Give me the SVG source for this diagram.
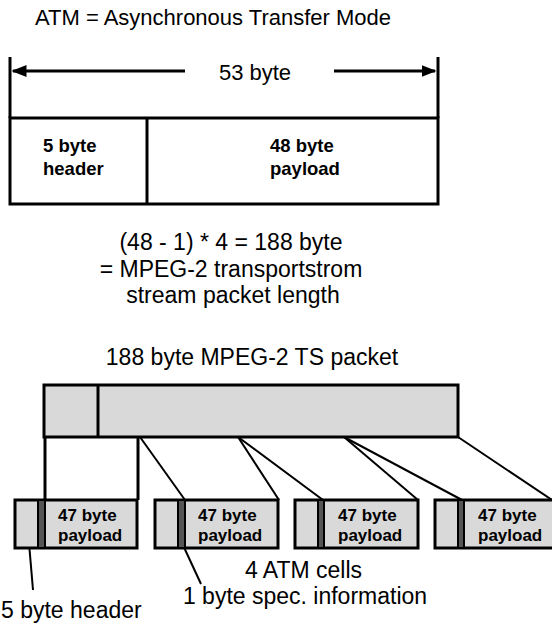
<svg xmlns="http://www.w3.org/2000/svg" width="552" height="625" viewBox="0 0 552 625">
<defs>
<style>
.t{font-family:"Liberation Sans",Arial,sans-serif;font-size:22px;fill:#000}
.m{font-family:"Liberation Sans",Arial,sans-serif;font-size:23px;fill:#000}
.b{font-family:"Liberation Sans",Arial,sans-serif;font-size:18.5px;font-weight:bold;fill:#000}
.c{font-family:"Liberation Sans",Arial,sans-serif;font-size:17px;font-weight:bold;fill:#000}
.box{fill:#fff;stroke:#000;stroke-width:3}
.g{fill:#d9d9d9;stroke:#000;stroke-width:3}
.band{fill:#555;stroke:#000;stroke-width:2}
.ln{stroke:#000;stroke-width:2;fill:none}
.thick{stroke:#000;stroke-width:3;fill:none}
</style>
<marker id="ah" viewBox="0 0 10 10" refX="9" refY="5" markerWidth="5" markerHeight="5" orient="auto-start-reverse" markerUnits="strokeWidth">
<path d="M0,1 L10,5 L0,9 z" fill="#000"/>
</marker>
</defs>
<rect width="552" height="625" fill="#fff"/>
<text class="t" x="35" y="25">ATM = Asynchronous Transfer Mode</text>
<g id="dimension">
<line class="thick" x1="10" y1="57" x2="10" y2="118"/>
<line class="thick" x1="438" y1="57" x2="438" y2="118"/>
<line class="thick" x1="185" y1="71" x2="13" y2="71" marker-end="url(#ah)"/>
<line class="thick" x1="334" y1="71" x2="435" y2="71" marker-end="url(#ah)"/>
<text class="t" x="255" y="80" text-anchor="middle">53 byte</text>
</g>
<g id="atm-cell">
<rect class="box" x="10" y="118" width="428" height="86"/>
<line class="thick" x1="147" y1="118" x2="147" y2="204"/>
<text class="b" x="43" y="152">5 byte</text>
<text class="b" x="43" y="175">header</text>
<text class="b" x="270" y="152">48 byte</text>
<text class="b" x="270" y="175">payload</text>
</g>
<g id="formula">
<text class="m" x="231" y="250" text-anchor="middle">(48 - 1) * 4 = 188 byte</text>
<text class="m" x="231" y="277" text-anchor="middle">= MPEG-2 transportstrom</text>
<text class="m" x="233" y="303" text-anchor="middle">stream packet length</text>
</g>
<text class="m" x="252" y="365" text-anchor="middle">188 byte MPEG-2 TS packet</text>
<g id="ts-packet">
<rect class="g" x="44" y="385" width="414" height="52"/>
<line class="thick" x1="98" y1="385" x2="98" y2="437"/>
</g>
<g id="connectors">
<line class="thick" x1="45" y1="437" x2="45" y2="500"/>
<line class="thick" x1="138" y1="437" x2="138" y2="500"/>
<line class="ln" x1="140" y1="437" x2="185" y2="500"/>
<line class="ln" x1="238" y1="437" x2="279" y2="500"/>
<line class="ln" x1="238" y1="437" x2="323" y2="500"/>
<line class="ln" x1="344" y1="437" x2="418" y2="500"/>
<line class="ln" x1="344" y1="437" x2="462" y2="500"/>
<line class="ln" x1="458" y1="437" x2="552" y2="500"/>
<line class="ln" x1="29" y1="543" x2="33" y2="590"/>
<line class="ln" x1="182" y1="543" x2="201" y2="584"/>
</g>
<g id="cell1">
<rect class="g" x="15" y="500" width="122" height="48"/>
<rect class="band" x="38" y="500" width="7" height="48"/>
<text class="c" x="58" y="521">47 byte</text>
<text class="c" x="58" y="541">payload</text>
</g>
<g id="cell2">
<rect class="g" x="155" y="500" width="123" height="48"/>
<rect class="band" x="178" y="500" width="7" height="48"/>
<text class="c" x="198" y="521">47 byte</text>
<text class="c" x="198" y="541">payload</text>
</g>
<g id="cell3">
<rect class="g" x="295" y="500" width="123" height="48"/>
<rect class="band" x="318" y="500" width="6" height="48"/>
<text class="c" x="338" y="521">47 byte</text>
<text class="c" x="338" y="541">payload</text>
</g>
<g id="cell4">
<rect class="g" x="435" y="500" width="120" height="48"/>
<rect class="band" x="458" y="500" width="6" height="48"/>
<text class="c" x="478" y="521">47 byte</text>
<text class="c" x="478" y="541">payload</text>
</g>
<text class="m" x="303.5" y="578" text-anchor="middle">4 ATM cells</text>
<text class="m" x="305" y="604" text-anchor="middle">1 byte spec. information</text>
<text class="m" x="1" y="618">5 byte header</text>
</svg>
